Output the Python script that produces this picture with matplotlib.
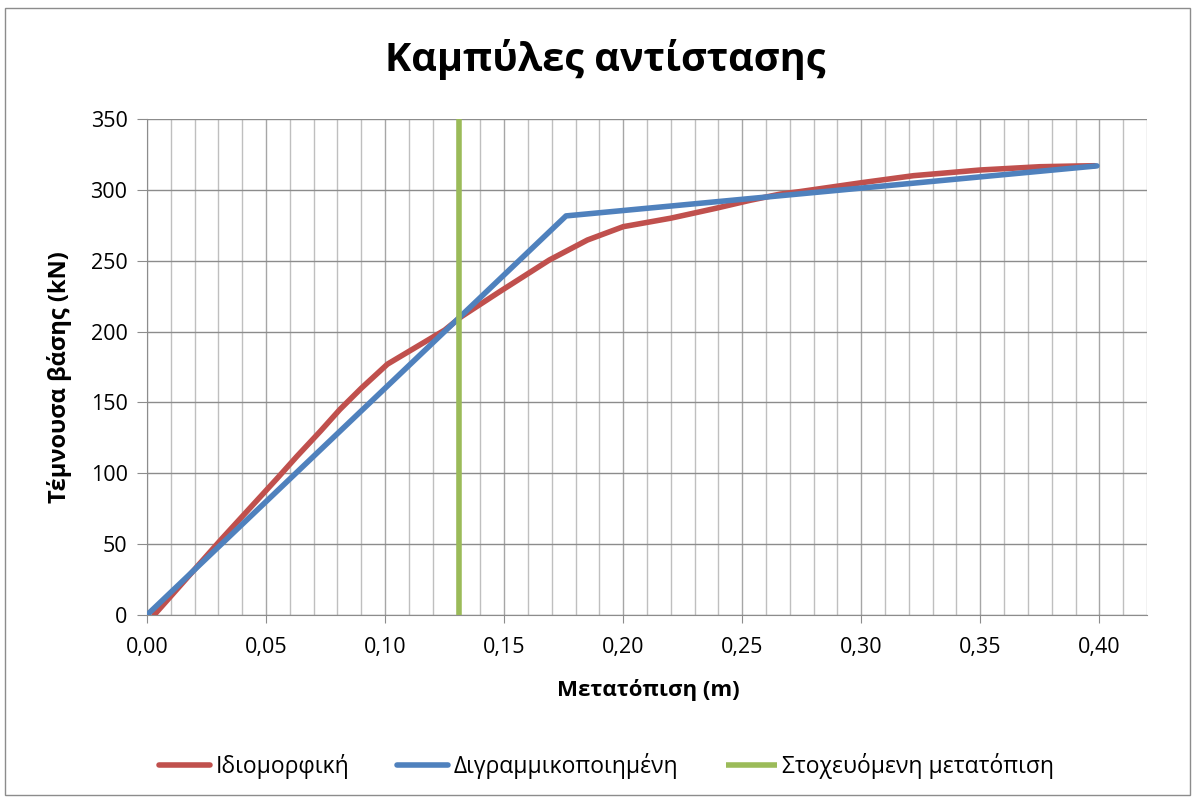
import matplotlib
matplotlib.use("Agg")
import matplotlib.pyplot as plt
from matplotlib.ticker import MultipleLocator, FuncFormatter
from matplotlib.patches import Rectangle

plt.rcParams['font.family'] = ['Open Sans', 'DejaVu Sans']

# Capacity (pushover) curve
modal_x = [0.003, 0.031, 0.055, 0.063, 0.073, 0.081, 0.090, 0.101, 0.109, 0.118,
           0.125, 0.132, 0.148, 0.169, 0.185, 0.200, 0.220, 0.239, 0.253, 0.266,
           0.274, 0.300, 0.322, 0.350, 0.375, 0.390, 0.398]
modal_y = [0.0, 53, 97, 112, 130, 145, 160, 177, 185, 194,
           201, 210.5, 228, 250.5, 264.6, 274, 280, 287, 292.5, 297,
           298.7, 305, 310, 314, 316.3, 316.8, 317.0]

# Bilinear idealisation
bilinear_x = [0.0, 0.176, 0.399]
bilinear_y = [0.0, 281.6, 316.9]

# Target displacement
target_x = [0.131, 0.131]
target_y = [0.0, 350.0]

labels = ['Ιδιομορφική', 'Διγραμμικοποιημένη', 'Στοχευόμενη μετατόπιση']
colors = ['#C0504D', '#4F81BD', '#9BBB59']

fig = plt.figure(figsize=(11.97, 7.99), dpi=100)
fig.patches.append(Rectangle((0.004, 0.005), 0.99, 0.985, transform=fig.transFigure,
                             fill=False, edgecolor='#8C8C8C', linewidth=1.0))

ax = fig.add_axes([0.1228, 0.2303, 0.8354, 0.6208])

ax.plot(modal_x, modal_y, color=colors[0], lw=4.0, label=labels[0], zorder=3,
        solid_joinstyle='round', solid_capstyle='round')
ax.plot(bilinear_x, bilinear_y, color=colors[1], lw=4.0, label=labels[1], zorder=4,
        solid_joinstyle='round', solid_capstyle='round')
ax.plot(target_x, target_y, color=colors[2], lw=4.0, label=labels[2], zorder=5,
        solid_capstyle='butt')

ax.set_xlim(0, 0.42)
ax.set_ylim(0, 350)
ax.xaxis.set_major_locator(MultipleLocator(0.05))
ax.xaxis.set_minor_locator(MultipleLocator(0.01))
ax.yaxis.set_major_locator(MultipleLocator(50))
ax.xaxis.set_major_formatter(FuncFormatter(lambda v, p: f"{v:.2f}".replace('.', ',')))
ax.yaxis.set_major_formatter(FuncFormatter(lambda v, p: f"{v:.0f}"))

ax.grid(which='minor', axis='x', color='#BFBFBF', lw=1.0)
ax.grid(which='major', axis='x', color='#A6A6A6', lw=1.0)
ax.grid(which='major', axis='y', color='#8C8C8C', lw=1.0)
ax.set_axisbelow(True)

for s in ['top', 'right']:
    ax.spines[s].set_visible(False)
ax.spines['left'].set_color('#8C8C8C')
ax.spines['bottom'].set_color('#8C8C8C')
ax.tick_params(axis='x', which='major', length=6, color='#8C8C8C', labelsize=15.5, pad=10)
ax.tick_params(axis='x', which='minor', length=0)
ax.tick_params(axis='y', length=7, color='#8C8C8C', labelsize=15.5, pad=7)

ax.set_xlabel('Μετατόπιση (m)', fontsize=16, fontweight='bold', va='center')
ax.xaxis.set_label_coords(0.501, -0.151)
ax.set_ylabel('Τέμνουσα βάσης (kN)', fontsize=17, fontweight='bold', va='center')
ax.yaxis.set_label_coords(-0.087, 0.48)

fig.text(0.506, 0.925, 'Καμπύλες αντίστασης', ha='center', va='center',
         fontsize=28.5, fontweight='bold')

fig.legend(loc='center', bbox_to_anchor=(0.507, 0.041), ncol=3, frameon=False,
           fontsize=16.5, handlelength=2.2, handletextpad=0.25, columnspacing=2.1)

fig.savefig('out.png', dpi=100)
